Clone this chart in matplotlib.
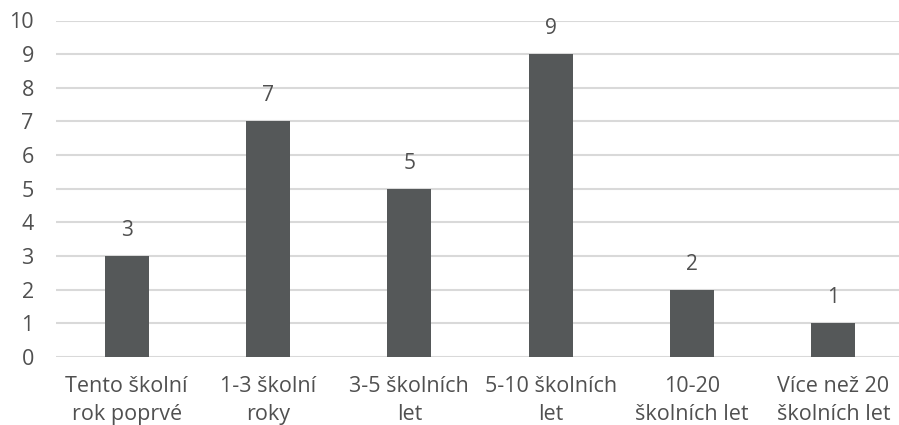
import matplotlib
matplotlib.use("Agg")
import matplotlib.pyplot as plt

categories = ["Tento školní\nrok poprvé", "1-3 školní\nroky", "3-5 školních\nlet",
              "5-10 školních\nlet", "10-20\nškolních let", "Více než 20\nškolních let"]
values = [3, 7, 5, 9, 2, 1]
y_ticks = list(range(0, 11))

TEXT = '#505050'
BAR = '#555859'
GRID = '#d9d9d9'

plt.rcParams['font.family'] = ['Open Sans', 'DejaVu Sans']

fig = plt.figure(figsize=(8.99, 4.25), dpi=100)
ax = fig.add_axes([56 / 899, 1 - 357 / 425, 848 / 899, (357 - 20.5) / 425])

x = range(len(categories))
ax.bar(x, values, width=0.31, color=BAR, zorder=3)
for xi, v in zip(x, values):
    ax.annotate(str(v), (xi, v), xytext=(0, 18.5), textcoords='offset points',
                ha='center', va='center', fontsize=15, color=TEXT)

ax.set_xlim(-0.5, len(categories) - 0.5)
ax.set_ylim(0, 10)
ax.set_yticks(y_ticks)
ax.set_yticklabels([str(t) for t in y_ticks])
ax.set_xticks(list(x))
ax.set_xticklabels(categories, linespacing=1.4)
ax.tick_params(axis='y', length=0, pad=16, labelsize=15.5, labelcolor=TEXT)
ax.tick_params(axis='x', length=0, pad=14, labelsize=15.5, labelcolor=TEXT)
for t in ax.get_xticklabels():
    t.set_ha('center')

ax.grid(axis='y', color=GRID, linewidth=1.5, zorder=0)
for s in ax.spines.values():
    s.set_visible(False)

fig.savefig('out.png', dpi=100)
